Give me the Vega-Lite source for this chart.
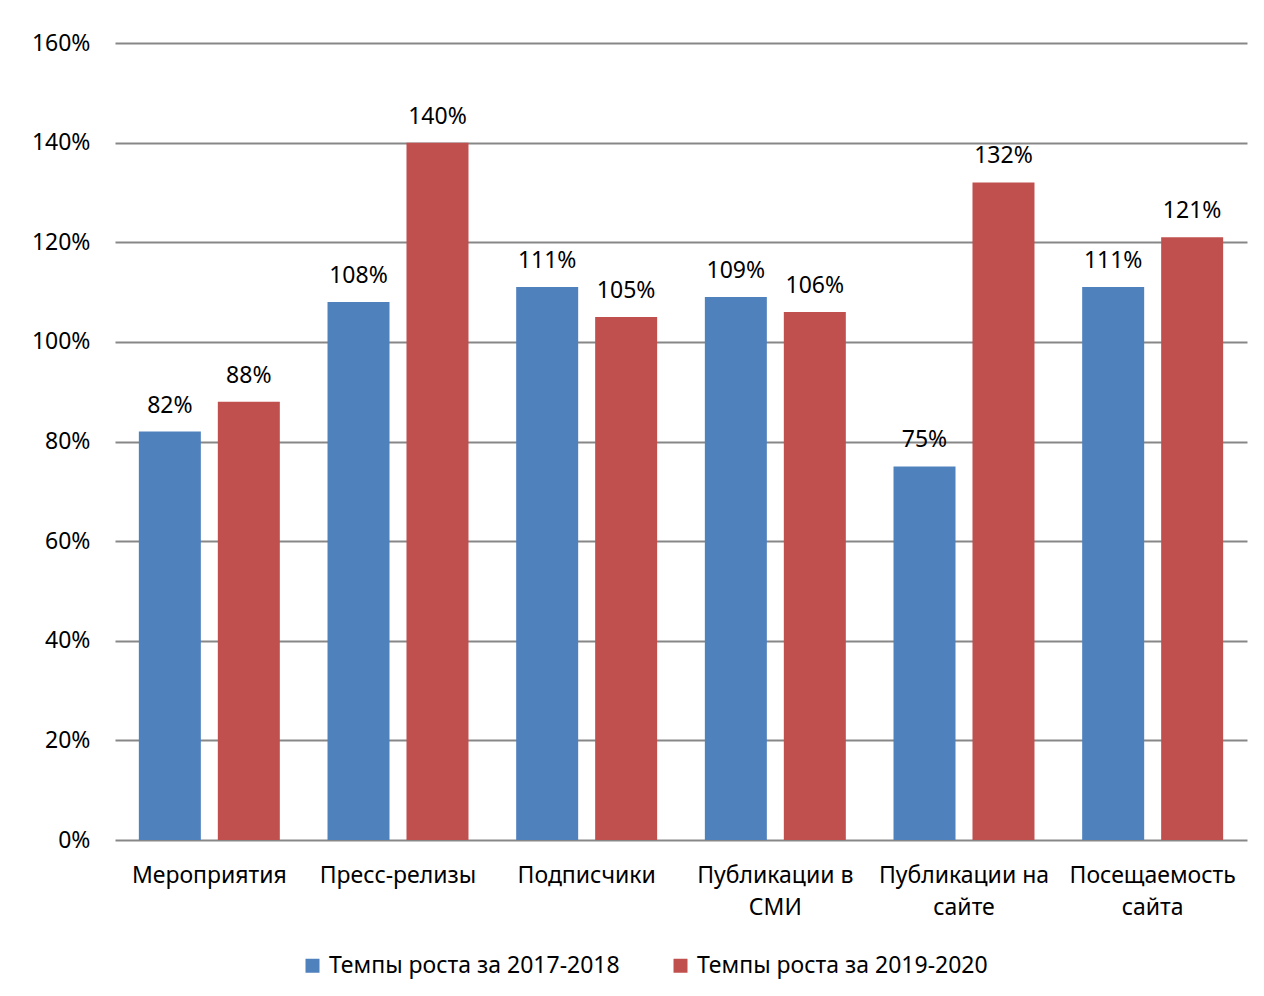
{
  "$schema": "https://vega.github.io/schema/vega-lite/v6.json",
  "autosize": {"type": "none"},
  "width": 1132,
  "height": 797,
  "padding": {"left": 115, "top": 43, "right": 17, "bottom": 156},
  "background": "white",
  "config": {
    "font": "Noto Sans",
    "view": {"stroke": null},
    "axis": {"labelFont": "Noto Sans", "labelColor": "#000000", "labelFontSize": 23}
  },
  "data": {
    "values": [
      {"category": "Мероприятия", "series": "Темпы роста за 2017-2018", "value": 0.82},
      {"category": "Мероприятия", "series": "Темпы роста за 2019-2020", "value": 0.88},
      {"category": "Пресс-релизы", "series": "Темпы роста за 2017-2018", "value": 1.08},
      {"category": "Пресс-релизы", "series": "Темпы роста за 2019-2020", "value": 1.40},
      {"category": "Подписчики", "series": "Темпы роста за 2017-2018", "value": 1.11},
      {"category": "Подписчики", "series": "Темпы роста за 2019-2020", "value": 1.05},
      {"category": "Публикации в СМИ", "series": "Темпы роста за 2017-2018", "value": 1.09},
      {"category": "Публикации в СМИ", "series": "Темпы роста за 2019-2020", "value": 1.06},
      {"category": "Публикации на сайте", "series": "Темпы роста за 2017-2018", "value": 0.75},
      {"category": "Публикации на сайте", "series": "Темпы роста за 2019-2020", "value": 1.32},
      {"category": "Посещаемость сайта", "series": "Темпы роста за 2017-2018", "value": 1.11},
      {"category": "Посещаемость сайта", "series": "Темпы роста за 2019-2020", "value": 1.21}
    ]
  },
  "encoding": {
    "x": {
      "field": "category",
      "type": "nominal",
      "sort": null,
      "scale": {"paddingInner": 0, "paddingOuter": 0},
      "axis": {
        "title": null,
        "labelAngle": 0,
        "labelPadding": 35,
        "labelLineHeight": 32,
        "labelBaseline": "middle",
        "ticks": false,
        "domain": false,
        "labelExpr": "length(datum.value) > 14 ? [substring(datum.value, 0, lastindexof(datum.value, ' ')), substring(datum.value, lastindexof(datum.value, ' ') + 1)] : datum.value"
      }
    },
    "xOffset": {
      "field": "series",
      "type": "nominal",
      "scale": {"paddingInner": 0.215, "paddingOuter": 0.302}
    },
    "y": {
      "field": "value",
      "type": "quantitative",
      "scale": {"domain": [0, 1.6], "nice": false},
      "axis": {
        "title": null,
        "format": ".0%",
        "values": [0, 0.2, 0.4, 0.6, 0.8, 1.0, 1.2, 1.4, 1.6],
        "labelPadding": 25,
        "ticks": false,
        "domain": false,
        "grid": true,
        "gridColor": "#878787",
        "gridWidth": 2,
        "gridOpacity": 1
      }
    }
  },
  "layer": [
    {
      "mark": {"type": "bar"},
      "encoding": {
        "color": {
          "field": "series",
          "type": "nominal",
          "scale": {"range": ["#4F81BD", "#C0504D"]},
          "legend": {
            "title": null,
            "orient": "none",
            "direction": "horizontal",
            "legendX": 186,
            "legendY": 911,
            "symbolType": "square",
            "symbolSize": 196,
            "symbolStrokeWidth": 0,
            "symbolOpacity": 1,
            "labelFontSize": 23,
            "labelFont": "Noto Sans",
            "labelColor": "#000000",
            "labelOffset": 5,
            "columnPadding": 49,
            "labelLimit": 400
          }
        }
      }
    },
    {
      "mark": {"type": "text", "baseline": "alphabetic", "dy": -19, "fontSize": 23, "font": "Noto Sans", "color": "#000000"},
      "encoding": {
        "text": {"field": "value", "type": "quantitative", "format": ".0%"}
      }
    },
    {
      "mark": {"type": "rule", "color": "#878787", "strokeWidth": 2},
      "encoding": {"y": {"datum": 0}}
    }
  ]
}
